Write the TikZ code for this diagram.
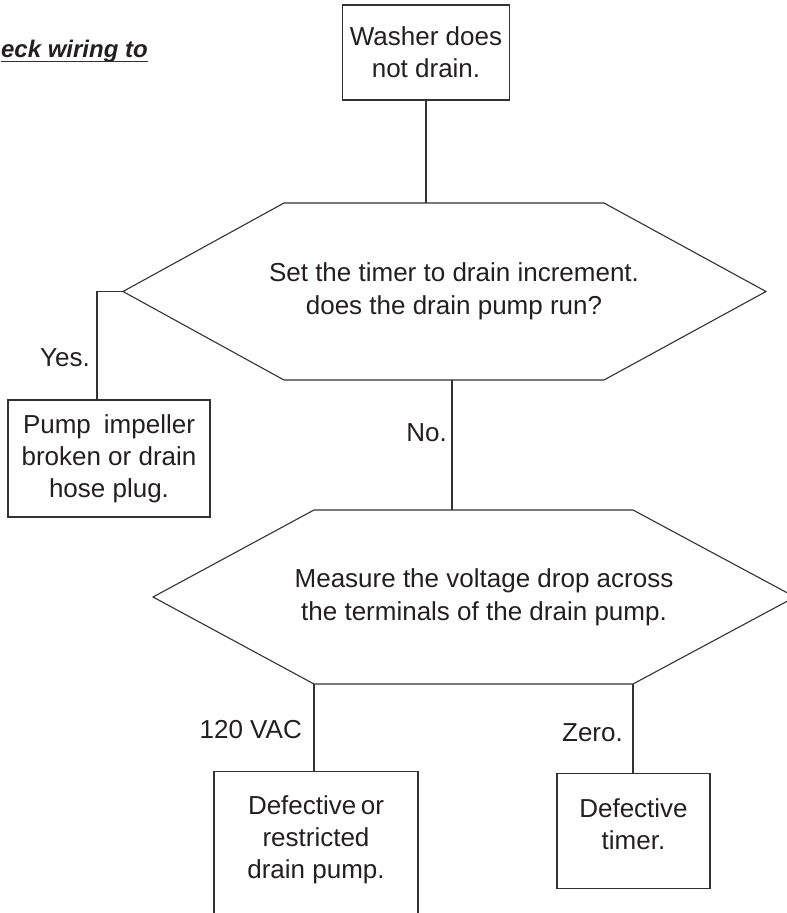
\documentclass[tikz,border=0pt]{standalone}
\usepackage{fontspec}
\setmainfont{Liberation Sans}
\usetikzlibrary{calc}
\definecolor{ink}{RGB}{35,31,32}
\definecolor{linec}{RGB}{50,50,50}
\begin{document}
\begin{tikzpicture}[x=1pt,y=-1pt,
  every node/.style={text=ink, font=\fontsize{26}{32}\selectfont, inner sep=0pt},
  ln/.style={draw=linec, line width=1.1pt},
  boxn/.style={ln, rectangle, align=center},
  framebox/.style={ln, rectangle},
  txt/.style={align=center},
  hextxt/.style={align=center, font=\fontsize{26}{33}\selectfont},
  lab/.style={anchor=east},
]
\useasboundingbox (0,0) rectangle (787,913);
\clip (0,0) rectangle (787,913);

% clipped heading fragment
\node[font=\bfseries\itshape\fontsize{24}{28}\selectfont, anchor=base east] (chk) at (148,57) {eck wiring to};
\draw[linec, line width=1.8pt] ($(chk.base west)+(0,4.5)$) -- ($(chk.base east)+(0,4.5)$);

% top box
\node[boxn, minimum width=167, minimum height=95] (top) at (426,52.5) {Washer does\\not drain.};

% hexagon 1
\coordinate (h1l) at (123,291.5);
\coordinate (h1tl) at (284,203);
\coordinate (h1tr) at (604,203);
\coordinate (h1r) at (766,291.5);
\coordinate (h1br) at (604,380);
\coordinate (h1bl) at (284,380);
\draw[ln] (h1l) -- (h1tl) -- (h1tr) -- (h1r) -- (h1br) -- (h1bl) -- cycle;
\node[hextxt] (q1) at (454,291) {Set the timer to drain increment.\\does the drain pump run?};

% hexagon 2
\coordinate (h2l) at (153,597);
\coordinate (h2tl) at (314,510);
\coordinate (h2tr) at (633,510);
\coordinate (h2r) at (795,597);
\coordinate (h2br) at (633,684);
\coordinate (h2bl) at (314,684);
\draw[ln] (h2l) -- (h2tl) -- (h2tr) -- (h2r) -- (h2br) -- (h2bl) -- cycle;
\node[hextxt] (q2) at (484,597) {Measure the voltage drop across\\the terminals of the drain pump.};

% result boxes
\node[boxn, minimum width=202, minimum height=117] (pump) at (109,458.5) {Pump\hspace{13pt}impeller\\broken or drain\\hose plug.};
\node[framebox, minimum width=204, minimum height=170, anchor=north] (defbox) at (316,771) {};
\node[txt] (defp) at (316,840) {Defective\hspace{4.5pt}or\\restricted\\drain pump.};
\node[framebox, minimum width=153, minimum height=115, anchor=north] (timbox) at (633.5,773) {};
\node[txt] (timer) at (633.5,824) {Defective\\timer.};

% connectors
\draw[ln] (top.south) -- (top.south |- h1tl);
\coordinate (yj) at (97,291.5);
\draw[ln] (h1l) -- (yj) -- (yj |- pump.north);
\coordinate (c1) at (452,380);
\coordinate (c2) at (452,510);
\draw[ln] (c1) -- (c2);
\draw[ln] (h2bl) -- (defbox.north -| h2bl);
\draw[ln] (h2br) -- (timbox.north -| h2br);

% labels
\node[lab] (yes) at (90,358) {Yes.};
\node[lab] (no) at (447,433) {No.};
\node[lab] (vac) at (302,730) {120 VAC};
\node[lab] (zero) at (623,733) {Zero.};
\end{tikzpicture}
\end{document}
